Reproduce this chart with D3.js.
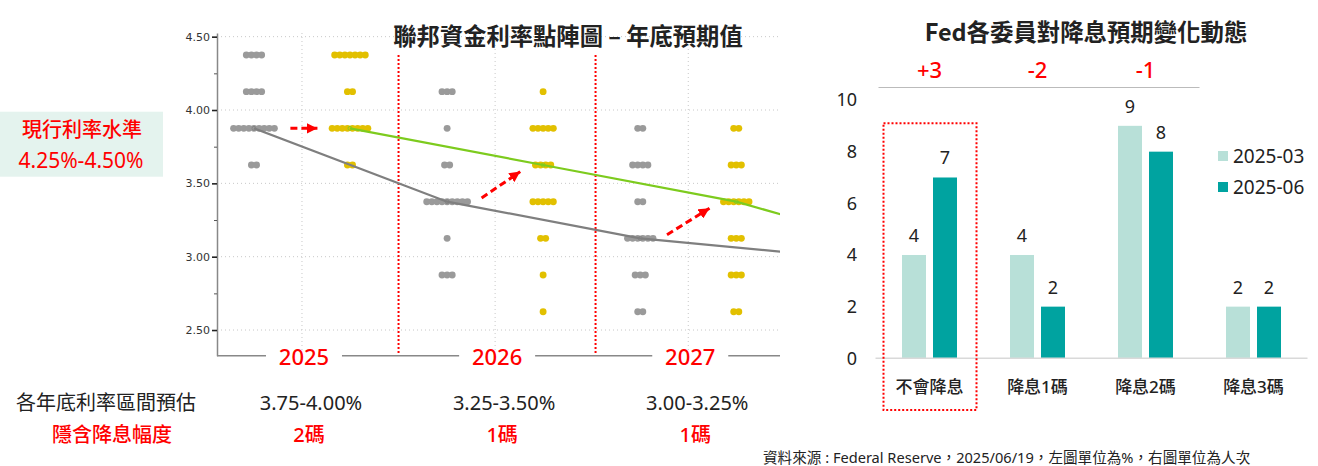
<!DOCTYPE html>
<html>
<head>
<meta charset="utf-8">
<script src="https://cdn.jsdelivr.net/npm/d3@7"></script>
<style>
  body { margin: 0; background: #fff; }
  svg { display: block; font-family: "Noto Sans", "Noto Sans CJK TC", sans-serif; }
</style>
</head>
<body>
<svg id="chart" width="1318" height="466"></svg>
<script>
// dot plot data: number of participants at each rate level
const years = [2025, 2026, 2027]
const rateLevels = [4.375, 4.125, 3.875, 3.625, 3.375, 3.125, 2.875, 2.625]
const mar2025 = [4, 4, 9, 2, 0, 0, 0, 0]
const mar2026 = [0, 3, 1, 2, 9, 1, 3, 0]
const mar2027 = [0, 0, 2, 4, 2, 6, 3, 2]
const jun2025 = [7, 2, 8, 2, 0, 0, 0, 0]
const jun2026 = [0, 1, 5, 4, 5, 2, 1, 1]
const jun2027 = [0, 0, 2, 3, 6, 3, 3, 2]

// medians, last point = longer run (drawn past the edge and clipped)
const medianYears = [2025, 2026, 2027, 2028]
const marMedian = [3.875, 3.375, 3.125, 3.0]
const junMedian = [3.875, 3.625, 3.375, 3.0]

const yTicks = [2.5, 3.0, 3.5, 4.0, 4.5]
const yMinorTicks = [2.75, 3.25, 3.75, 4.25]
const dividers = [2025.5, 2026.52]

const arrowFrom = [[2024.94, 3.875], [2025.93, 3.40], [2026.89, 3.15]]
const arrowTo = [[2025.08, 3.875], [2026.13, 3.58], [2027.11, 3.33]]

const rangeLabels = ["3.75-4.00%", "3.25-3.50%", "3.00-3.25%"]
const cutLabels = ["2碼", "1碼", "1碼"]

// right bar chart data
const categories = ["不會降息", "降息1碼", "降息2碼", "降息3碼"]
const seriesNames = ["2025-03", "2025-06"]
const valuesMar = [4, 4, 9, 2]
const valuesJun = [7, 2, 8, 2]
const changeLabels = ["+3", "-2", "-1"]

const gray = "#9a9a9a"
const yellow = "#e2c000"
const lightTeal = "#b8e0d8"
const teal = "#00a3a0"
const red = "#ff0000"

const svg = d3.select("#chart")

// ---------- left: dot plot ----------
const L = {left: 217, right: 780, top: 33, bottom: 355.7}
const x = d3.scaleLinear().domain([2024.56, 2027.475]).range([L.left, L.right])
const y = d3.scaleLinear().domain([2.325, 4.525]).range([L.bottom, L.top])
const colOffset = 48
const dotStep = 5.1

svg.append("defs").append("clipPath").attr("id", "plotClip")
   .append("rect")
   .attr("x", L.left).attr("y", L.top)
   .attr("width", L.right - L.left).attr("height", L.bottom - L.top)

svg.append("defs").append("marker")
   .attr("id", "arrowHead")
   .attr("viewBox", "0 0 10 10")
   .attr("refX", 10).attr("refY", 5)
   .attr("markerWidth", 3.6).attr("markerHeight", 3.6)
   .attr("markerUnits", "strokeWidth")
   .attr("orient", "auto")
   .append("path").attr("d", "M0,0L10,5L0,10Z").attr("fill", red)

// grid
svg.append("g").selectAll("line")
   .data(yTicks)
   .join("line")
   .attr("x1", L.left).attr("x2", L.right)
   .attr("y1", d => y(d)).attr("y2", d => y(d))
   .attr("stroke", "#c8c8c8").attr("stroke-dasharray", "1,3")

svg.append("g").selectAll("line")
   .data(years)
   .join("line")
   .attr("x1", d => x(d)).attr("x2", d => x(d))
   .attr("y1", L.top).attr("y2", L.bottom)
   .attr("stroke", "#c8c8c8").attr("stroke-dasharray", "1,3")

// red dividers between years
svg.append("g").selectAll("line")
   .data(dividers)
   .join("line")
   .attr("x1", d => x(d)).attr("x2", d => x(d))
   .attr("y1", 55).attr("y2", L.bottom)
   .attr("stroke", red).attr("stroke-width", 2).attr("stroke-dasharray", "2,2")

// dots
const dotSeries = [
  {counts: [mar2025, mar2026, mar2027], offset: -colOffset, color: gray},
  {counts: [jun2025, jun2026, jun2027], offset: colOffset, color: yellow}
]
dotSeries.forEach(s => {
  const pts = []
  years.forEach((yr, yi) => {
    s.counts[yi].forEach((n, li) => {
      for (let i = 0; i < n; i++) {
        pts.push({cx: x(yr) + s.offset + (i - (n - 1) / 2) * dotStep, cy: y(rateLevels[li])})
      }
    })
  })
  svg.append("g").selectAll("circle")
     .data(pts)
     .join("circle")
     .attr("cx", d => d.cx).attr("cy", d => d.cy)
     .attr("r", 3.45)
     .attr("fill", s.color)
})

// median lines
const medianLines = [
  {values: marMedian, offset: -colOffset, color: "#7f7f7f"},
  {values: junMedian, offset: colOffset, color: "#7dcb1e"}
]
medianLines.forEach(m => {
  const line = d3.line()
                 .x((d, i) => x(medianYears[i]) + m.offset)
                 .y(d => y(d))
  svg.append("path")
     .attr("clip-path", "url(#plotClip)")
     .attr("d", line(m.values))
     .attr("fill", "none")
     .attr("stroke", m.color)
     .attr("stroke-width", 2.2)
  svg.append("g").selectAll("circle")
     .data(m.values.slice(0, 3))
     .join("circle")
     .attr("cx", (d, i) => x(medianYears[i]) + m.offset)
     .attr("cy", d => y(d))
     .attr("r", 2)
     .attr("fill", "none")
     .attr("stroke", m.color)
     .attr("stroke-width", 0.8)
})

// red dashed arrows
svg.append("g").selectAll("line")
   .data(arrowFrom)
   .join("line")
   .attr("x1", d => x(d[0])).attr("y1", d => y(d[1]))
   .attr("x2", (d, i) => x(arrowTo[i][0])).attr("y2", (d, i) => y(arrowTo[i][1]))
   .attr("stroke", red).attr("stroke-width", 3)
   .attr("stroke-dasharray", "7,4")
   .attr("marker-end", "url(#arrowHead)")

// y axis
const yAxis = svg.append("g")
   .attr("transform", `translate(${L.left},0)`)
   .call(d3.axisLeft(y).tickValues(yTicks).tickFormat(d3.format(".2f"))
           .tickSize(5).tickSizeOuter(0).tickPadding(2))
yAxis.select(".domain").attr("stroke", "#888").attr("stroke-width", 1.5)
yAxis.selectAll(".tick line").attr("stroke", "#222").attr("stroke-width", 1.6)
yAxis.selectAll(".tick text")
     .style("font-family", "'DejaVu Sans', sans-serif")
     .style("font-size", "11px").attr("fill", "#333")

const yMinor = svg.append("g")
   .attr("transform", `translate(${L.left},0)`)
   .call(d3.axisLeft(y).tickValues(yMinorTicks).tickFormat("").tickSize(3).tickSizeOuter(0))
yMinor.select(".domain").remove()
yMinor.selectAll(".tick line").attr("stroke", "#555")

// x axis line with year labels on white patches
svg.append("line")
   .attr("x1", L.left).attr("x2", L.right)
   .attr("y1", L.bottom).attr("y2", L.bottom)
   .attr("stroke", "#888").attr("stroke-width", 1.5)

svg.append("g").selectAll("rect")
   .data(years)
   .join("rect")
   .attr("x", d => x(d) + 2 - 38).attr("y", L.bottom - 4)
   .attr("width", 76).attr("height", 8)
   .attr("fill", "#fff")

svg.append("g").selectAll("text")
   .data(years)
   .join("text")
   .attr("x", d => x(d) + 2).attr("y", 365)
   .attr("text-anchor", "middle")
   .attr("fill", red)
   .style("font-size", "22px").style("font-weight", 500)
   .text(d => d)

// title
svg.append("text")
   .attr("x", 568).attr("y", 45)
   .attr("text-anchor", "middle")
   .style("font-family", "'Noto Sans CJK TC', sans-serif")
   .style("font-size", "23.3px").style("font-weight", "bold")
   .attr("fill", "#222")
   .text("聯邦資金利率點陣圖 – 年底預期值")

// current rate box
svg.append("rect")
   .attr("x", 0).attr("y", 111.7).attr("width", 163).attr("height", 65)
   .attr("fill", "#e4f3ee")
svg.append("text")
   .attr("x", 82).attr("y", 137)
   .attr("text-anchor", "middle").attr("fill", red)
   .style("font-family", "'Noto Sans CJK TC', sans-serif")
   .style("font-size", "20px").style("font-weight", 500)
   .text("現行利率水準")
svg.append("text")
   .attr("x", 81).attr("y", 168)
   .attr("text-anchor", "middle").attr("fill", red)
   .style("font-size", "21px")
   .text("4.25%-4.50%")

// bottom table
svg.append("text")
   .attr("x", 106).attr("y", 410)
   .attr("text-anchor", "middle").attr("fill", "#222")
   .style("font-family", "'Noto Sans CJK TC', sans-serif")
   .style("font-size", "20px")
   .text("各年底利率區間預估")
svg.append("text")
   .attr("x", 112).attr("y", 442)
   .attr("text-anchor", "middle").attr("fill", red)
   .style("font-family", "'Noto Sans CJK TC', sans-serif")
   .style("font-size", "20px").style("font-weight", 500)
   .text("隱含降息幅度")

svg.append("g").selectAll("text")
   .data(rangeLabels)
   .join("text")
   .attr("x", (d, i) => x(years[i]) + 9).attr("y", 410)
   .attr("text-anchor", "middle").attr("fill", "#222")
   .style("font-size", "20px")
   .text(d => d)

svg.append("g").selectAll("text")
   .data(cutLabels)
   .join("text")
   .attr("x", (d, i) => x(years[i]) + 7).attr("y", 442)
   .attr("text-anchor", "middle").attr("fill", red)
   .style("font-family", "'Noto Sans', 'Noto Sans CJK TC', sans-serif")
   .style("font-size", "20px").style("font-weight", 500)
   .text(d => d)

// source note
svg.append("text")
   .attr("x", 763).attr("y", 463)
   .attr("fill", "#222")
   .style("font-size", "14.6px")
   .text("資料來源 : Federal Reserve，2025/06/19，左圖單位為%，右圖單位為人次")

// ---------- right: bar chart ----------
const R = {left: 875.5, right: 1307.5, top: 100, bottom: 358.3}
const xb = d3.scaleBand().domain(categories).range([R.left, R.right]).padding(0)
const xs = d3.scaleBand().domain(seriesNames).range([26.5, 81.5]).paddingInner(0.226)
const yb = d3.scaleLinear().domain([0, 10]).range([R.bottom, R.top])
const barColor = d3.scaleOrdinal().domain(seriesNames).range([lightTeal, teal])

const barData = []
categories.forEach((c, i) => {
  barData.push({cat: c, s: seriesNames[0], v: valuesMar[i]})
  barData.push({cat: c, s: seriesNames[1], v: valuesJun[i]})
})

svg.append("text")
   .attr("x", 1086).attr("y", 41)
   .attr("text-anchor", "middle")
   .style("font-family", "'Noto Sans CJK TC', sans-serif")
   .style("font-size", "23.4px").style("font-weight", "bold")
   .attr("fill", "#222")
   .text("Fed各委員對降息預期變化動態")

// change labels above first three categories
svg.append("g").selectAll("text")
   .data(changeLabels)
   .join("text")
   .attr("x", (d, i) => xb(categories[i]) + xb.bandwidth() / 2)
   .attr("y", 78.3)
   .attr("text-anchor", "middle").attr("fill", red)
   .style("font-size", "22px").style("font-weight", 500)
   .text(d => d)

svg.append("line")
   .attr("x1", xb(categories[0]) + 3).attr("x2", xb(categories[2]) + xb.bandwidth())
   .attr("y1", 87.5).attr("y2", 87.5)
   .attr("stroke", "#bbb").attr("stroke-width", 1.2)

svg.append("g").selectAll("rect")
   .data(barData)
   .join("rect")
   .attr("x", d => xb(d.cat) + xs(d.s))
   .attr("width", xs.bandwidth())
   .attr("y", d => yb(d.v))
   .attr("height", d => yb(0) - yb(d.v))
   .attr("fill", d => barColor(d.s))

svg.append("g").selectAll("text")
   .data(barData)
   .join("text")
   .attr("x", d => xb(d.cat) + xs(d.s) + xs.bandwidth() / 2)
   .attr("y", d => yb(d.v) - 13)
   .attr("text-anchor", "middle").attr("fill", "#222")
   .style("font-size", "18px")
   .text(d => d.v)

// baseline
svg.append("line")
   .attr("x1", R.left).attr("x2", R.right)
   .attr("y1", R.bottom).attr("y2", R.bottom)
   .attr("stroke", "#d9d9d9").attr("stroke-width", 1.5)

// y labels
const yAxisR = svg.append("g")
   .attr("transform", `translate(857,0)`)
   .call(d3.axisLeft(yb).tickValues(d3.range(0, 11, 2)).tickSize(0).tickPadding(0))
yAxisR.select(".domain").remove()
yAxisR.selectAll(".tick text")
      .style("font-family", "'Noto Sans', sans-serif")
      .style("font-size", "18px").attr("fill", "#222")

// category labels
svg.append("g").selectAll("text")
   .data(categories)
   .join("text")
   .attr("x", d => xb(d) + xb.bandwidth() / 2)
   .attr("y", 393)
   .attr("text-anchor", "middle").attr("fill", "#222")
   .style("font-size", "17px").style("font-weight", 500)
   .text(d => d)

// highlight box around first category
svg.append("rect")
   .attr("x", xb(categories[0]) + 8).attr("y", 123.3)
   .attr("width", xb.bandwidth() - 15).attr("height", 410 - 123.3)
   .attr("fill", "none").attr("stroke", red)
   .attr("stroke-width", 2).attr("stroke-dasharray", "2,2")

// legend
const legend = svg.append("g").selectAll("g")
   .data(seriesNames)
   .join("g")
   .attr("transform", (d, i) => `translate(1218,${151 + i * 31})`)
legend.append("rect")
   .attr("width", 10).attr("height", 10)
   .attr("fill", d => barColor(d))
legend.append("text")
   .attr("x", 15).attr("y", 11.5)
   .attr("fill", "#222")
   .style("font-size", "19px")
   .text(d => d)
</script>
</body>
</html>
